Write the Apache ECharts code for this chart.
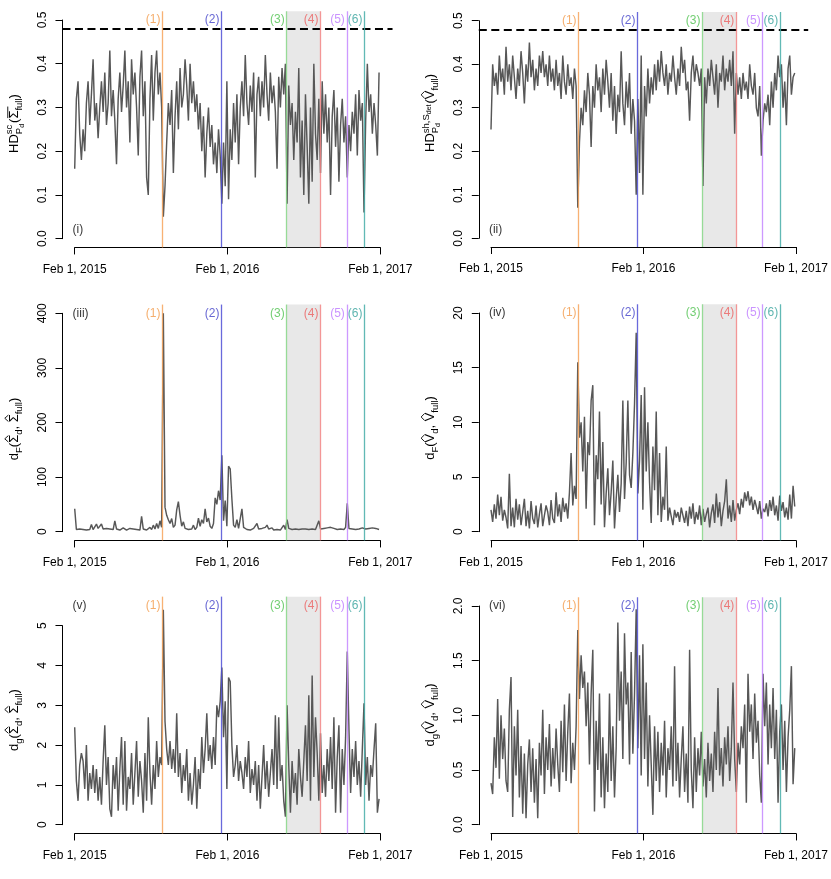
<!DOCTYPE html>
<html><head><meta charset="utf-8">
<script src="https://cdn.jsdelivr.net/npm/echarts@6/dist/echarts.min.js"></script>
<style>html,body{margin:0;padding:0;background:#fff}#c{width:831px;height:879px}</style>
</head><body><div id="c"></div>
<script>
// ---------- data ----------
const tickLabels = ['Feb 1, 2015', 'Feb 1, 2016', 'Feb 1, 2017'];
const tickDays = [0, 365, 731];          // days since Feb 1, 2015
const sampleStepDays = 4;                // one value every 4 days
const eventDays = [210, 351, 507, 588, 651, 693];
const eventLabels = ['(1)', '(2)', '(3)', '(4)', '(5)', '(6)'];
const eventColors = ['#F7A35C', '#4F4FD6', '#86D686', '#F28585', '#C487FF', '#45ADA8'];
const eventLabelColors = ['#F29A48', '#4141C8', '#4FC24F', '#EC5E5E', '#BD78FF', '#36A39C'];
const shadedFromDay = 507, shadedToDay = 588;
const hdThreshold = 0.48;
const panelTags = ['(i)', '(ii)', '(iii)', '(iv)', '(v)', '(vi)'];

const hdSc = [0.16,0.32,0.36,0.24,0.18,0.25,0.20,0.31,0.36,0.26,
 0.33,0.41,0.27,0.31,0.23,0.30,0.36,0.29,0.38,0.26,
 0.31,0.43,0.28,0.34,0.27,0.17,0.32,0.38,0.29,0.35,
 0.43,0.30,0.36,0.22,0.41,0.33,0.38,0.30,0.19,0.37,
 0.43,0.28,0.36,0.14,0.10,0.32,0.42,0.27,0.38,0.43,
 0.33,0.38,0.30,0.05,0.12,0.22,0.31,0.26,0.34,0.15,
 0.28,0.36,0.25,0.39,0.30,0.33,0.41,0.35,0.27,0.40,
 0.31,0.36,0.29,0.33,0.25,0.31,0.20,0.28,0.14,0.24,
 0.30,0.21,0.26,0.17,0.22,0.15,0.25,0.19,0.08,0.22,
 0.12,0.36,0.09,0.25,0.18,0.31,0.22,0.33,0.17,0.30,
 0.36,0.28,0.42,0.31,0.26,0.35,0.29,0.38,0.14,0.33,
 0.37,0.28,0.36,0.30,0.42,0.33,0.27,0.38,0.31,0.35,
 0.29,0.16,0.37,0.30,0.39,0.33,0.40,0.08,0.35,0.26,
 0.31,0.18,0.29,0.22,0.39,0.14,0.27,0.10,0.33,0.21,
 0.08,0.30,0.13,0.40,0.24,0.18,0.32,0.15,0.36,0.24,
 0.33,0.22,0.30,0.10,0.28,0.34,0.21,0.30,0.13,0.26,
 0.32,0.22,0.28,0.14,0.26,0.20,0.29,0.24,0.33,0.19,
 0.34,0.27,0.31,0.06,0.27,0.40,0.29,0.33,0.24,0.31,
 0.26,0.19,0.38];

const hdSh = [0.25,0.40,0.35,0.38,0.33,0.42,0.36,0.39,0.33,0.44,
 0.36,0.40,0.34,0.42,0.37,0.32,0.39,0.35,0.43,0.38,
 0.31,0.40,0.36,0.45,0.37,0.41,0.34,0.39,0.35,0.42,
 0.38,0.43,0.37,0.40,0.35,0.42,0.36,0.39,0.34,0.41,
 0.35,0.38,0.32,0.42,0.36,0.33,0.40,0.35,0.37,0.32,
 0.39,0.35,0.07,0.22,0.30,0.26,0.34,0.29,0.38,0.33,
 0.21,0.35,0.30,0.40,0.34,0.37,0.29,0.39,0.33,0.41,
 0.36,0.30,0.38,0.27,0.35,0.24,0.33,0.29,0.43,0.31,
 0.26,0.36,0.30,0.38,0.24,0.32,0.27,0.10,0.32,0.15,
 0.42,0.10,0.35,0.28,0.39,0.31,0.37,0.33,0.40,0.34,
 0.41,0.36,0.43,0.38,0.35,0.40,0.33,0.38,0.36,0.42,
 0.37,0.33,0.39,0.35,0.44,0.38,0.41,0.34,0.36,0.27,
 0.38,0.42,0.36,0.40,0.38,0.35,0.39,0.12,0.37,0.31,
 0.39,0.35,0.41,0.37,0.33,0.40,0.30,0.38,0.36,0.42,
 0.34,0.39,0.36,0.41,0.35,0.43,0.24,0.38,0.33,0.37,
 0.32,0.38,0.34,0.36,0.32,0.40,0.35,0.33,0.38,0.30,
 0.28,0.35,0.19,0.27,0.31,0.29,0.33,0.26,0.36,0.30,
 0.38,0.34,0.42,0.37,0.40,0.30,0.36,0.26,0.39,0.42,
 0.33,0.37,0.38];

const dfSigma = [42,4,3,5,6,4,5,3,6,4,
 13,4,5,14,6,3,14,5,4,6,
 3,5,7,4,20,5,6,3,4,7,
 5,3,4,6,3,5,7,4,6,3,
 28,5,4,3,6,8,4,12,5,15,
 6,20,8,400,45,30,22,15,24,8,
 12,40,55,30,10,18,6,9,4,7,
 5,12,4,8,25,10,22,15,42,18,
 25,10,6,15,62,50,75,58,140,20,
 57,10,120,115,60,12,8,22,6,5,
 42,8,5,4,7,3,5,6,4,15,
 5,4,6,3,8,12,5,4,7,3,
 5,4,6,3,5,12,4,22,6,5,
 4,6,5,7,4,6,5,8,5,6,
 4,7,5,6,4,5,20,5,4,6,
 5,7,4,8,5,6,9,4,6,5,
 7,4,8,52,6,4,5,7,4,6,
 5,4,7,8,5,4,6,5,7,4,
 6,8,4];

const dfV = [2.0,0.9,2.5,1.2,3.4,1.5,3.2,1.0,2.0,1.3,
 0.3,5.3,0.5,2.2,0.4,3.0,1.1,2.5,0.6,1.8,
 3.0,0.5,1.9,0.3,2.8,1.2,0.7,2.4,0.4,1.6,
 2.6,0.5,1.5,2.4,1.8,0.6,2.9,1.2,0.8,3.6,
 1.4,2.5,0.9,3.1,1.8,2.6,1.2,3.6,7.2,2.4,
 4.2,3.0,15.5,8.6,10.0,5.5,10.5,2.1,8.2,7.0,
 12.0,13.4,0.6,7.0,4.8,11.0,2.5,8.2,0.4,3.5,
 5.8,1.5,3.6,6.5,0.3,3.0,5.2,1.8,4.4,12.0,
 3.0,6.3,12.0,5.2,4.0,7.2,11.7,18.2,3.5,6.5,
 12.5,2.0,13.2,5.5,10.0,4.5,0.8,7.8,3.8,11.0,
 1.5,7.2,0.9,3.2,2.0,7.8,1.0,2.2,1.4,0.6,
 2.0,1.3,1.8,0.9,2.2,1.5,0.8,1.9,0.5,2.3,
 1.2,2.6,0.7,1.8,1.1,2.4,0.6,2.1,0.9,1.6,
 2.2,0.4,1.7,2.5,0.8,3.5,1.3,2.7,0.5,1.9,
 2.8,4.8,1.2,2.4,0.9,2.9,1.0,2.0,2.6,1.6,
 3.0,2.2,3.6,2.8,3.7,2.4,3.2,2.0,2.9,2.3,
 1.6,2.8,1.2,2.1,1.8,2.6,1.4,2.9,1.9,3.2,
 1.5,2.4,1.0,3.3,1.9,2.7,1.3,2.2,1.1,3.4,
 1.2,4.2,2.3];

const dgSigma = [2.45,1.1,0.6,1.5,1.8,1.6,0.9,2.0,0.6,1.3,
 0.9,1.5,0.8,1.4,0.6,1.2,0.5,1.6,2.5,1.0,
 1.7,0.4,0.2,1.5,0.9,1.7,0.35,1.4,2.2,0.5,
 2.1,0.35,1.2,0.9,1.8,0.5,1.3,2.1,0.7,1.6,
 1.1,0.3,1.8,0.6,2.7,1.3,0.5,1.5,0.9,2.1,
 1.2,1.7,1.5,5.4,2.6,1.9,1.5,2.1,1.4,1.9,
 1.3,2.8,1.2,1.8,0.8,1.5,1.1,1.9,0.6,1.3,
 0.5,1.0,1.7,0.4,1.4,0.9,2.2,1.3,1.9,2.8,
 1.6,2.0,1.4,2.2,1.5,3.0,2.7,3.1,3.95,2.2,
 3.1,0.9,3.7,3.6,2.0,1.2,1.5,2.0,1.1,1.6,
 1.3,0.9,1.7,1.2,2.1,0.8,1.4,1.0,1.6,0.6,
 1.5,0.4,1.2,2.0,0.9,1.6,0.7,1.3,1.9,1.0,
 2.75,0.9,2.7,1.1,1.5,0.6,0.2,3.0,1.5,0.3,
 1.6,0.8,1.3,0.5,1.9,1.2,0.7,1.6,2.5,1.1,
 3.25,0.6,3.75,1.2,2.7,1.8,0.6,2.3,0.8,1.5,
 0.7,1.9,1.1,2.2,0.9,2.7,0.3,1.7,2.5,0.3,
 1.9,1.0,2.2,4.35,2.4,0.8,1.9,1.2,2.1,1.0,
 1.6,0.7,1.9,3.05,1.0,1.7,0.6,1.5,1.2,1.9,
 2.55,0.3,0.65];

const dgV = [0.38,0.28,0.80,0.52,1.15,0.42,1.00,0.60,0.88,0.40,
 0.30,1.05,1.35,0.07,0.90,0.45,1.05,0.25,0.72,0.10,
 0.65,0.06,0.55,0.78,0.30,0.70,0.20,0.60,0.06,0.75,
 0.45,1.05,0.28,0.80,0.50,0.92,0.35,0.70,0.42,0.88,
 0.55,0.30,0.95,0.48,1.10,0.40,0.85,1.20,0.38,0.75,
 0.50,0.90,1.78,1.15,1.55,1.25,1.40,0.90,1.30,0.55,
 1.20,1.60,0.12,0.95,0.50,1.20,0.25,0.80,0.15,0.65,
 0.30,1.20,0.40,0.90,0.25,0.70,1.85,0.95,1.40,0.60,
 1.75,1.10,1.30,0.55,1.58,0.65,1.20,1.97,0.70,1.55,
 0.45,1.65,0.60,1.30,0.35,1.00,0.55,0.09,0.90,0.40,
 0.85,0.30,0.75,0.45,0.95,0.25,0.70,0.50,0.90,0.35,
 1.45,0.40,0.75,0.25,0.60,0.90,0.30,0.65,0.20,1.60,
 0.50,0.15,0.80,0.30,0.70,0.45,0.85,0.35,0.60,0.25,
 0.75,0.40,0.65,0.30,0.85,0.50,1.25,0.45,0.70,0.35,
 0.80,0.55,0.90,0.40,0.70,1.30,0.60,0.30,0.75,0.55,
 0.90,0.70,1.10,0.20,1.38,0.85,1.10,0.60,1.20,0.75,
 0.95,0.45,0.20,1.38,0.90,1.30,0.55,1.10,0.70,1.25,
 0.60,1.05,0.20,0.85,1.10,0.50,0.95,0.30,0.80,1.05,
 1.45,0.37,0.70];

// ---------- layout (pixels) ----------
const FONT = '"Liberation Sans", Arial, Helvetica, sans-serif';
const panels = [
  {values: hdSc,    x0: 74.7, x1: 380.3, y0: 238.7, yTop: 20.0,  tickMax: 0.5, interval: 0.1, ylim: 0.5,  dec: 1, dashed: true,  tagY: 0.02, title: 'i',   titleCY: 123.5},
  {values: hdSh,    x0: 491,  x1: 796,   y0: 238.3, yTop: 20.7,  tickMax: 0.5, interval: 0.1, ylim: 0.5,  dec: 1, dashed: true,  tagY: 0.02, title: 'ii',  titleCY: 113},
  {values: dfSigma, x0: 74.7, x1: 380.3, y0: 531.7, yTop: 313.3, tickMax: 400, interval: 100, ylim: 400,  dec: 0, dashed: false, tagY: 400,  title: 'iii', titleCY: 429},
  {values: dfV,     x0: 491,  x1: 796,   y0: 531.7, yTop: 313.0, tickMax: 20,  interval: 5,   ylim: 20,   dec: 0, dashed: false, tagY: 20,   title: 'iv',  titleCY: 428},
  {values: dgSigma, x0: 74.7, x1: 380.3, y0: 824.7, yTop: 625.7, tickMax: 5,   interval: 1,   ylim: 5.51, dec: 0, dashed: false, tagY: 5.51, title: 'v',   titleCY: 720},
  {values: dgV,     x0: 491,  x1: 796,   y0: 824.7, yTop: 606.0, tickMax: 2,   interval: 0.5, ylim: 2,    dec: 1, dashed: false, tagY: 2,    title: 'vi',  titleCY: 715}
];

const grid = [], xAxis = [], yAxis = [], series = [], graphic = [];
const SPAN = tickDays[2] - tickDays[0];
const lineSt = {color: '#000', width: 1};
const shownAxis = {
  show: true,
  axisLine: {show: true, lineStyle: lineSt},
  axisTick: {show: true, length: 7, lineStyle: lineSt},
  splitLine: {show: false}
};
const labelBase = {color: '#000', fontSize: 12, fontFamily: FONT};

panels.forEach((p, k) => {
  const w = p.x1 - p.x0;
  const ppu = (p.y0 - p.yTop) / p.tickMax;
  const padX = 0.04 * w;
  const padYpx = 0.04 * p.ylim * ppu;
  const plotLeft = p.x0 - padX, plotTop = p.y0 - p.ylim * ppu - padYpx, plotBottom = p.y0 + padYpx;

  // 1) plot region grid (R-style 4% padding), hidden axes
  const gPlot = grid.length;
  grid.push({left: plotLeft, width: w + 2 * padX, top: plotTop, height: plotBottom - plotTop});
  xAxis.push({gridIndex: gPlot, type: 'value', show: false, min: -0.04 * SPAN, max: SPAN * 1.04});
  yAxis.push({gridIndex: gPlot, type: 'value', show: false, min: -0.04 * p.ylim, max: p.ylim * 1.04});

  // 2) x axis drawn along plot bottom, spanning only the tick range
  const gX = grid.length;
  grid.push({left: p.x0, width: w, top: plotTop, height: plotBottom - plotTop});
  xAxis.push(Object.assign({}, shownAxis, {
    gridIndex: gX, type: 'value', position: 'bottom', min: 0, max: SPAN, interval: SPAN / 2,
    axisLabel: Object.assign({}, labelBase, {margin: 16, formatter: v => {
      let best = 0; tickDays.forEach((d, j) => { if (Math.abs(d - v) < Math.abs(tickDays[best] - v)) best = j; });
      return tickLabels[best]; }})
  }));
  yAxis.push({gridIndex: gX, type: 'value', show: false, min: 0, max: 1});

  // 3) y axis drawn along plot left, spanning only the tick range
  const gY = grid.length;
  grid.push({left: plotLeft, width: w, top: p.yTop, height: p.y0 - p.yTop});
  xAxis.push({gridIndex: gY, type: 'value', show: false, min: 0, max: 1});
  yAxis.push(Object.assign({}, shownAxis, {
    gridIndex: gY, type: 'value', position: 'left', min: 0, max: p.tickMax, interval: p.interval,
    axisLabel: Object.assign({}, labelBase, {rotate: 90, margin: 14, formatter: v => v.toFixed(p.dec)})
  }));

  // data line
  series.push({
    type: 'line', xAxisIndex: gPlot, yAxisIndex: gPlot, z: 2, silent: true,
    data: p.values.map((v, i) => [i * sampleStepDays, v]),
    symbol: 'none', lineStyle: {color: '#575757', width: 1.45}, clip: false
  });
  // shaded interval (drawn over the line, semi-transparent)
  series.push({
    type: 'line', xAxisIndex: gPlot, yAxisIndex: gPlot, z: 3, silent: true, data: [],
    markArea: {silent: true, itemStyle: {color: 'rgba(185,185,185,0.32)'},
      data: [[{xAxis: shadedFromDay}, {xAxis: shadedToDay}]]}
  });
  // threshold dashed line
  if (p.dashed) {
    series.push({
      type: 'line', xAxisIndex: gPlot, yAxisIndex: gPlot, z: 4, silent: true, data: [],
      markLine: {silent: true, symbol: 'none', label: {show: false},
        lineStyle: {color: '#000', width: 1.8, type: [8, 4.5]},
        data: [{yAxis: hdThreshold}]}
    });
  }
  // event lines
  series.push({
    type: 'line', xAxisIndex: gPlot, yAxisIndex: gPlot, z: 5, silent: true, data: [],
    markLine: {silent: true, symbol: 'none', label: {show: false},
      data: eventDays.map((d, j) => ({xAxis: d, lineStyle: {color: eventColors[j], width: 1.3, type: 'solid', opacity: 0.85}}))}
  });
  // event labels
  series.push({
    type: 'scatter', xAxisIndex: gPlot, yAxisIndex: gPlot, z: 6, silent: true, symbolSize: 0,
    data: eventDays.map((d, j) => ({value: [d, p.ylim],
      label: {show: true, position: 'left', distance: 2, formatter: eventLabels[j], color: eventLabelColors[j], fontSize: 12, fontFamily: FONT}}))
  });
  // panel tag
  series.push({
    type: 'scatter', xAxisIndex: gPlot, yAxisIndex: gPlot, z: 6, silent: true, symbolSize: 0,
    data: [{value: [-5, p.tagY], label: {show: true, position: 'right', distance: 0, formatter: panelTags[k], color: '#000', fontSize: 12, fontFamily: FONT}}]
  });
});

// ---------- y-axis titles (math-like, rotated) ----------
const mctx = document.createElement('canvas').getContext('2d');
function tw(t, fs) { mctx.font = fs + 'px ' + FONT; return mctx.measureText(t).width; }
const N = 13, S = 9.5, SS = 7;
function T(t, fs, dy, deco) { return {t, fs, dy: dy || 0, deco}; }
const titleSpecs = {
  i:   [T('HD', N), {stack: [[T('sc', S, -6)], [T('P', S, 3.5), T('d', SS, 5.5)]]}, T('(', N), T('Σ', N, 0, 'bar'), T('full', S, 3.5), T(')', N)],
  ii:  [T('HD', N), {stack: [[T('sh,S', S, -6), T('det', SS, -4)], [T('P', S, 3.5), T('d', SS, 5.5)]]}, T('(', N), T('V', N, 0, 'hat'), T('full', S, 3.5), T(')', N)],
  iii: [T('d', N), T('F', S, 3.5), T('(', N), T('Σ', N, 0, 'hat'), T('d', S, 3.5), T(', ', N), T('Σ', N, 0, 'hat'), T('full', S, 3.5), T(')', N)],
  iv:  [T('d', N), T('F', S, 3.5), T('(', N), T('V', N, 0, 'hat'), T('d', S, 3.5), T(', ', N), T('V', N, 0, 'hat'), T('full', S, 3.5), T(')', N)],
  v:   [T('d', N), T('g', S, 3.5), T('(', N), T('Σ', N, 0, 'hat'), T('d', S, 3.5), T(', ', N), T('Σ', N, 0, 'hat'), T('full', S, 3.5), T(')', N)],
  vi:  [T('d', N), T('g', S, 3.5), T('(', N), T('V', N, 0, 'hat'), T('d', S, 3.5), T(', ', N), T('V', N, 0, 'hat'), T('full', S, 3.5), T(')', N)]
};
function textEl(tok, x) {
  return {type: 'text', x: x, y: tok.dy - 0.35 * tok.fs, silent: true,
    style: {text: tok.t, fontSize: tok.fs, fontFamily: FONT, fill: '#000',
      align: 'left', verticalAlign: 'middle', textAlign: 'left', textVerticalAlign: 'middle'}};
}
function buildTitle(spec) {
  const kids = []; let x = 0;
  const place = (tok) => {
    const w = tw(tok.t, tok.fs);
    kids.push(textEl(tok, x));
    if (tok.deco === 'hat') {
      kids.push({type: 'polyline', silent: true, shape: {points: [[x + 0.8, -10.6], [x + w / 2, -14.2], [x + w - 0.8, -10.6]]},
        style: {stroke: '#000', lineWidth: 0.9, fill: null}});
    } else if (tok.deco === 'bar') {
      kids.push({type: 'line', silent: true, shape: {x1: x + 0.5, y1: -11.2, x2: x + w + 4, y2: -11.2}, style: {stroke: '#000', lineWidth: 0.9}});
    }
    return w;
  };
  spec.forEach(item => {
    if (item.stack) {
      const start = x; let maxW = 0;
      item.stack.forEach(row => {
        x = start; let rw = 0;
        row.forEach(tok => { const w = place(tok); x += w; rw += w; });
        maxW = Math.max(maxW, rw);
      });
      x = start + maxW + 1;
    } else {
      x += place(item);
    }
  });
  return {kids, width: x};
}
panels.forEach((p, k) => {
  const t = buildTitle(titleSpecs[p.title]);
  const baseX = p.x0 - 0.04 * (p.x1 - p.x0) - 43.5;
  graphic.push({type: 'group', x: baseX, y: p.titleCY + t.width / 2, rotation: Math.PI / 2, silent: true, children: t.kids});
});

const chart = echarts.init(document.getElementById('c'), null, {renderer: 'canvas'});
chart.setOption({animation: false, backgroundColor: '#fff', grid, xAxis, yAxis, series, graphic});
</script>
</body></html>
